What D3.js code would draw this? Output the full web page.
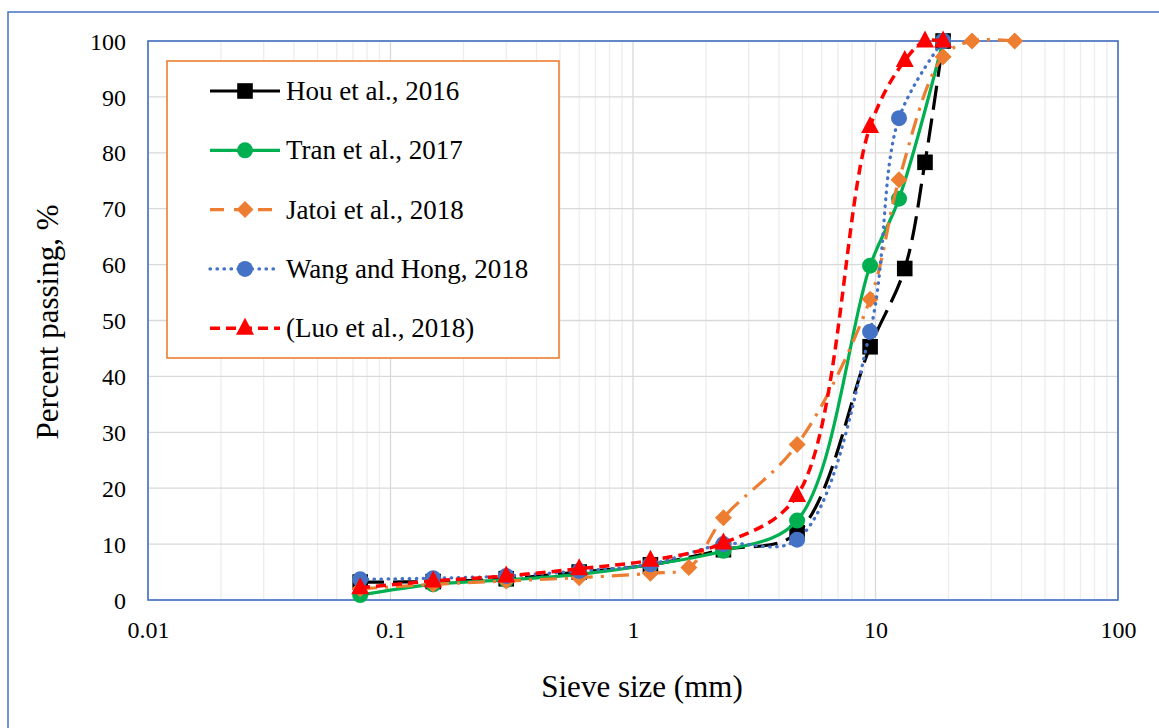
<!DOCTYPE html>
<html><head><meta charset="utf-8">
<script src="https://cdn.jsdelivr.net/npm/d3@7"></script>
<style>body{margin:0;background:#fff}svg{display:block}</style>
</head><body><svg id="c" width="1159" height="728"></svg>
<script>
// ---- data ----
const houSize   = [0.075,0.15,0.3,0.6,1.18,2.36,4.75,9.5,13.2,16,19];
const houPass   = [3.2,3.3,3.8,5.0,6.3,9.0,12.0,45.3,59.3,78.3,100];
const tranSize  = [0.075,0.15,0.3,0.6,1.18,2.36,4.75,9.5,12.5,19];
const tranPass  = [0.9,2.8,3.6,4.6,6.3,8.8,14.2,59.8,71.8,100];
const jatoiSize = [0.075,0.15,0.3,0.6,1.18,1.7,2.36,4.75,9.5,12.5,19,25,37.5];
const jatoiPass = [2.0,2.8,3.4,4.0,4.8,5.8,14.7,27.8,53.8,75.2,97.2,100,100];
const wangSize  = [0.075,0.15,0.3,0.6,1.18,2.36,4.75,9.5,12.5,19];
const wangPass  = [3.7,3.9,4.3,5.2,6.4,10.0,10.8,48.0,86.2,100];
const luoSize   = [0.075,0.15,0.3,0.6,1.18,2.36,4.75,9.5,13.2,16,19];
const luoPass   = [2.2,3.4,4.3,5.6,7.1,10.2,18.7,84.7,96.5,100,100];
const seriesNames = ["Hou et al., 2016","Tran et al., 2017","Jatoi et al., 2018","Wang and Hong, 2018","(Luo et al., 2018)"];
const xTicks = [0.01,0.1,1,10,100];
const xTickLabels = ["0.01","0.1","1","10","100"];
const yTicks = [0,10,20,30,40,50,60,70,80,90,100];

const FONT = "'Liberation Serif', 'Times New Roman', Times, 'DejaVu Serif', serif";

const series = [
  {name:seriesNames[0], x:houSize, y:houPass, color:"#000000", dash:"24,9", width:3.2, marker:"square", cap:"butt", legendDash:null},
  {name:seriesNames[1], x:tranSize, y:tranPass, color:"#00B050", dash:null, width:3.2, marker:"circle", cap:"butt", legendDash:null},
  {name:seriesNames[2], x:jatoiSize, y:jatoiPass, color:"#ED7D31", dash:"17,8,3,8", width:3.2, marker:"diamond", cap:"butt", legendDash:"14,10"},
  {name:seriesNames[3], x:wangSize, y:wangPass, color:"#4472C4", dash:"0.5,6.5", width:3.3, marker:"circle", cap:"round", legendDash:"0.5,6.5"},
  {name:seriesNames[4], x:luoSize, y:luoPass, color:"#FF0000", dash:"10,6", width:3.5, marker:"triangle", cap:"butt", legendDash:"10,6"}
];

const svg = d3.select("#c").style("font-family", FONT);
svg.append("rect").attr("width",1159).attr("height",728).attr("fill","#fff");
svg.append("rect").attr("x",8).attr("y",12).attr("width",1200).attr("height",800)
  .attr("fill","none").attr("stroke","#4472C4").attr("stroke-width",1.5);

const L=148,R=1118,T=41,B=600;
const x = d3.scaleLog().domain([0.01,100]).range([L,R]);
const y = d3.scaleLinear().domain([0,100]).range([B,T]);

// minor grid
const minor=[];
for(let e=-2;e<2;e++) for(let k=2;k<=9;k++) minor.push(k*Math.pow(10,e));
svg.append("g").selectAll("line").data(minor).join("line")
  .attr("x1",d=>x(d)).attr("x2",d=>x(d)).attr("y1",T).attr("y2",B)
  .attr("stroke","#EDEDED").attr("stroke-width",1.3);
svg.append("g").selectAll("line").data(xTicks).join("line")
  .attr("x1",d=>x(d)).attr("x2",d=>x(d)).attr("y1",T).attr("y2",B)
  .attr("stroke","#D9D9D9").attr("stroke-width",1.3);
svg.append("g").selectAll("line").data(yTicks).join("line")
  .attr("x1",L).attr("x2",R).attr("y1",d=>y(d)).attr("y2",d=>y(d))
  .attr("stroke","#D9D9D9").attr("stroke-width",1.3);

// axes (labels only)
const yAxis = svg.append("g").attr("transform",`translate(${L},0)`)
  .call(d3.axisLeft(y).tickValues(yTicks).tickSize(0).tickPadding(22));
yAxis.select(".domain").remove();
yAxis.attr("font-family",FONT).attr("font-size",24);
yAxis.selectAll("text").attr("fill","#000").attr("dy","0.34em");
const xAxis = svg.append("g").attr("transform",`translate(0,${B})`)
  .call(d3.axisBottom(x).tickValues(xTicks).tickFormat((d,i)=>xTickLabels[i]).tickSize(0).tickPadding(21));
xAxis.select(".domain").remove();
xAxis.attr("font-family",FONT).attr("font-size",24);
xAxis.selectAll("text").attr("fill","#000");

svg.append("rect").attr("x",L).attr("y",T).attr("width",R-L).attr("height",B-T)
  .attr("fill","none").attr("stroke","#4472C4").attr("stroke-width",1.6);

svg.append("text").attr("x",642).attr("y",697).attr("text-anchor","middle").attr("font-size",31)
  .attr("font-family",FONT).text("Sieve size (mm)");
svg.append("text").attr("transform","translate(58,322) rotate(-90)").attr("text-anchor","middle").attr("font-size",31)
  .attr("font-family",FONT).text("Percent passing, %");

function marker(g, type, cx, cy, color, s){
  if(type==="square") g.append("rect").attr("x",cx-7.8*s).attr("y",cy-7.8*s).attr("width",15.6*s).attr("height",15.6*s).attr("fill",color);
  else if(type==="circle") g.append("circle").attr("cx",cx).attr("cy",cy).attr("r",8*s).attr("fill",color);
  else if(type==="diamond") g.append("path").attr("d",`M${cx},${cy-8.5*s}L${cx+8.5*s},${cy}L${cx},${cy+8.5*s}L${cx-8.5*s},${cy}Z`).attr("fill",color);
  else if(type==="triangle") g.append("path").attr("d",`M${cx},${cy-10.5*s}L${cx+9*s},${cy+6.5*s}L${cx-9*s},${cy+6.5*s}Z`).attr("fill",color);
}

const line = d3.line().x(d=>x(d[0])).y(d=>y(d[1])).curve(d3.curveCatmullRom.alpha(0.5));
series.forEach(s=>{
  const pts = s.x.map((v,i)=>[v,s.y[i]]);
  const g = svg.append("g");
  g.append("path").attr("d",line(pts)).attr("fill","none").attr("stroke",s.color)
    .attr("stroke-width",s.width).attr("stroke-dasharray",s.dash).attr("stroke-linecap",s.cap);
  pts.forEach(p=>marker(g,s.marker,x(p[0]),y(p[1]),s.color,1));
});

// legend
const lg = svg.append("g");
lg.append("rect").attr("x",167).attr("y",61).attr("width",392).attr("height",297)
  .attr("fill","#fff").attr("stroke","#ED7D31").attr("stroke-width",1.6);
series.forEach((s,i)=>{
  const yy = 91 + i*59.3;
  lg.append("line").attr("x1",210).attr("x2",280).attr("y1",yy).attr("y2",yy)
    .attr("stroke",s.color).attr("stroke-width",s.width).attr("stroke-dasharray",s.legendDash).attr("stroke-linecap",s.cap);
  marker(lg,s.marker,245,yy,s.color,1);
  lg.append("text").attr("x",286).attr("y",yy+9).attr("font-size",27).attr("font-family",FONT).attr("fill","#000").text(s.name);
});
</script></body></html>
